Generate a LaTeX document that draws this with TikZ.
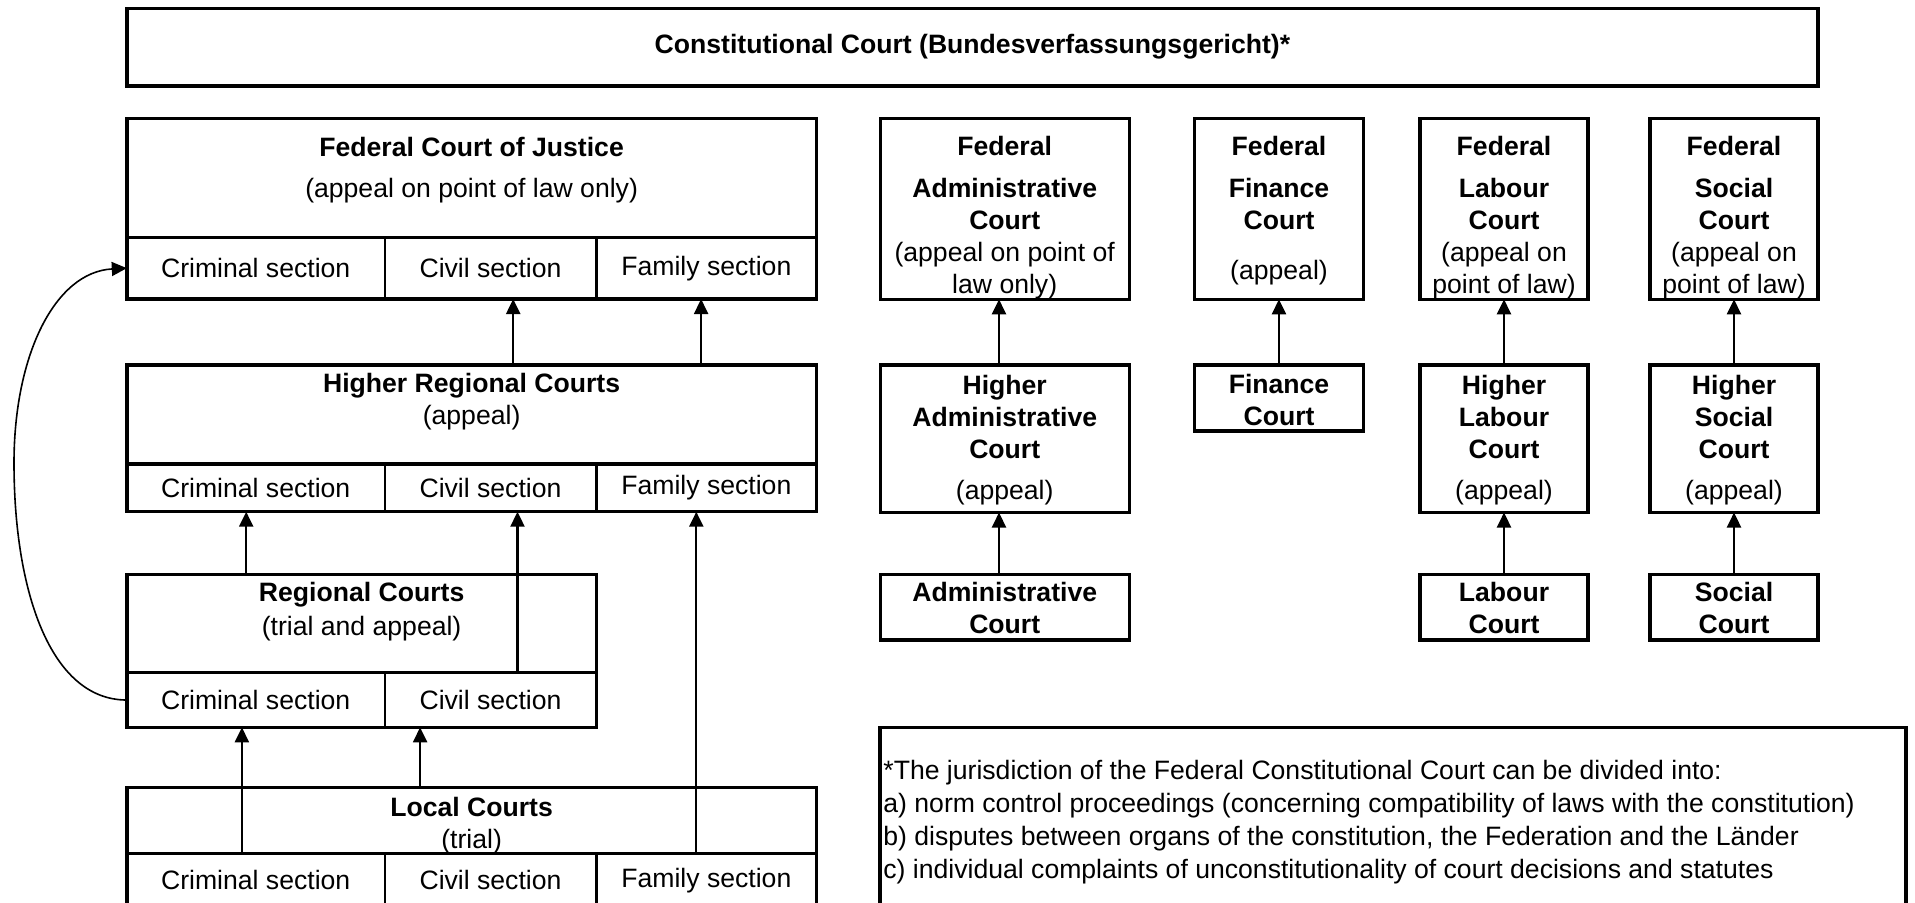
\documentclass[tikz,border=0pt]{standalone}
\usepackage{fontspec}
\setmainfont{Liberation Sans}
\usetikzlibrary{arrows.meta,calc}
\newcommand\courtbox[7][]{%
  \pgfmathsetmacro\cbw{(#5-#3)*0.5}%
  \pgfmathsetmacro\cbh{(#6-#4)*0.5}%
  \node[part,#1,minimum width=\cbw pt,minimum height=\cbh pt] (#2) at ({(#3+#5)/2},{(#4+#6)/2}) {#7};}
\begin{document}
\begin{tikzpicture}[x=0.5pt,y=-0.5pt,
  font=\fontsize{13.3}{16}\selectfont,
  part/.style={draw=black,line width=1.1pt,inner sep=0pt,outer sep=0pt},
  frame/.style={draw=black,line width=1.7pt},
  thick box/.style={line width=1.7pt},
  txt/.style={align=center,inner sep=0pt},
  arr/.style={draw=black,line width=1.1pt,-{Triangle[length=7.5pt,width=7pt]}},
  curved/.style={draw=black,line width=0.8pt,-{Triangle[length=7.5pt,width=7pt]}}]
\fill[white] (0,0) rectangle (1915,902);
\useasboundingbox (0,0) rectangle (1915,902);

% Constitutional court
\courtbox[thick box]{const}{126.8}{8.3}{1818}{86}{\textbf{Constitutional Court (Bundesverfassungsgericht)*}}

% Federal Court of Justice
\courtbox{fcj}{126.8}{118.3}{816.3}{237.3}{}
\courtbox{fcjcrim}{126.8}{237.3}{384.6}{299}{Criminal section}
\courtbox{fcjciv}{384.6}{237.3}{596.4}{299}{Civil section}
\courtbox{fcjfam}{596.4}{237.3}{816.3}{299}{Family section}
\draw[frame] (fcj.north west) rectangle (fcjfam.south east);
\draw[frame] (fcj.south west) -- (fcj.south east);
\node[txt] (fcjt) at (471.6,170) {\textbf{Federal Court of Justice}\\[4.8pt](appeal on point of law only)};

% Higher Regional Courts
\courtbox{hrc}{126.8}{365}{816.3}{464}{}
\courtbox{hrccrim}{126.8}{464}{384.6}{511.7}{Criminal section}
\courtbox{hrcciv}{384.6}{464}{596.4}{511.7}{Civil section}
\courtbox{hrcfam}{596.4}{464}{816.3}{511.7}{Family section}
\draw[frame] (hrc.north west) rectangle (hrcfam.south east);
\draw[frame] (hrc.south west) -- (hrc.south east);
\node[txt] (hrct) at (471.6,402) {\textbf{Higher Regional Courts}\\(appeal)};

% Regional Courts
\courtbox{rc}{126.8}{574.3}{596.4}{672.7}{}
\courtbox{rccrim}{126.8}{672.7}{384.6}{727.3}{Criminal section}
\courtbox{rcciv}{384.6}{672.7}{596.4}{727.3}{Civil section}
\draw[frame] (rc.north west) rectangle (rcciv.south east);
\draw[frame] (rc.south west) -- (rc.south east);
\node[txt] (rct) at (361.6,611.5) {\textbf{Regional Courts}\\[1pt](trial and appeal)};

% Local Courts
\courtbox{lc}{126.8}{787.7}{816.3}{853.3}{}
\courtbox{lccrim}{126.8}{853.3}{384.6}{907}{Criminal section}
\courtbox{lcciv}{384.6}{853.3}{596.4}{907}{Civil section}
\courtbox{lcfam}{596.4}{853.3}{816.3}{907}{Family section}
\draw[frame] (lc.north west) rectangle (lcfam.south east);
\draw[frame] (lc.south west) -- (lc.south east);
\node[txt] (lct) at (471.6,825.7) {\textbf{Local Courts}\\(trial)};

% Right-hand columns
\courtbox[thick box]{fadm}{880.2}{118.3}{1129.2}{299.3}{}
\courtbox[thick box]{ffin}{1194.5}{118.3}{1363.4}{299.3}{}
\courtbox[thick box]{flab}{1419.9}{118.3}{1588.1}{299.3}{}
\courtbox[thick box]{fsoc}{1650}{118.3}{1818}{299.3}{}
\courtbox[thick box]{hadm}{880.2}{365}{1129.2}{512.5}{}
\courtbox[thick box]{fic}{1194.5}{365}{1363.4}{431}{}
\courtbox[thick box]{hlab}{1419.9}{365}{1588.1}{512.5}{}
\courtbox[thick box]{hsoc}{1650}{365}{1818}{512.5}{}
\courtbox[thick box]{adm}{880.2}{574.6}{1129.2}{640}{}
\courtbox[thick box]{lab}{1419.9}{574.6}{1588.1}{640}{}
\courtbox[thick box]{soc}{1650}{574.6}{1818}{640}{}

\node[txt] (fadmt) at (1004.7,218) {\textbf{Federal}\\[5pt]\textbf{Administrative}\\\textbf{Court}\\(appeal on point of\\law only)};
\node[txt] (ffint) at (1279,211) {\textbf{Federal}\\[5pt]\textbf{Finance}\\\textbf{Court}\\[9pt](appeal)};
\node[txt] (flabt) at (1504,218) {\textbf{Federal}\\[5pt]\textbf{Labour}\\\textbf{Court}\\(appeal on\\point of law)};
\node[txt] (fsoct) at (1734,218) {\textbf{Federal}\\[5pt]\textbf{Social}\\\textbf{Court}\\(appeal on\\point of law)};
\node[txt] (hadmt) at (1004.7,440.5) {\textbf{Higher}\\\textbf{Administrative}\\\textbf{Court}\\[4.5pt](appeal)};
\node[txt] (fict) at (1279,399.7) {\textbf{Finance}\\\textbf{Court}};
\node[txt] (hlabt) at (1504,440.5) {\textbf{Higher}\\\textbf{Labour}\\\textbf{Court}\\[4.5pt](appeal)};
\node[txt] (hsoct) at (1734,440.5) {\textbf{Higher}\\\textbf{Social}\\\textbf{Court}\\[4.5pt](appeal)};
\node[txt] (admt) at (1004.7,608.2) {\textbf{Administrative}\\\textbf{Court}};
\node[txt] (labt) at (1504,608.2) {\textbf{Labour}\\\textbf{Court}};
\node[txt] (soct) at (1734,608.2) {\textbf{Social}\\\textbf{Court}};

% Footnote
\courtbox[thick box]{note}{880}{727.5}{1906}{910}{}
\node[align=left,inner sep=0pt,anchor=west,font=\fontsize{13.3}{16.5}\selectfont] (notet) at (883,822)
  {*The jurisdiction of the Federal Constitutional Court can be divided into:\\
   a) norm control proceedings (concerning compatibility of laws with the constitution)\\
   b) disputes between organs of the constitution, the Federation and the Länder\\
   c) individual complaints of unconstitutionality of court decisions and statutes};

% Arrows, left column
\coordinate (xa) at (513.2,0);
\coordinate (xb) at (701.1,0);
\coordinate (xc) at (246.2,0);
\coordinate (xd) at (517.5,0);
\coordinate (xe) at (696.3,0);
\coordinate (xf) at (241.9,0);
\coordinate (xg) at (420.1,0);
\draw[arr] (hrc.north -| xa) -- (fcjciv.south -| xa);
\draw[arr] (hrc.north -| xb) -- (fcjfam.south -| xb);
\draw[arr] (rc.north -| xc) -- (hrccrim.south -| xc);
\draw[arr] (rcciv.north -| xd) -- (hrcciv.south -| xd);
\draw[arr] (lcfam.north -| xe) -- (hrcfam.south -| xe);
\draw[arr] (lccrim.north -| xf) -- (rccrim.south -| xf);
\draw[arr] (lc.north -| xg) -- (rcciv.south -| xg);

% Curved arrow
\coordinate (bend) at (14,463);
\draw[curved] (rccrim.west) .. controls (50,700) and (14,590) .. (bend)
  .. controls (14,355) and (55,272) .. (fcjcrim.west);

% Arrows, right columns
\coordinate (xadm) at (999,0);
\draw[arr] (hadm.north -| xadm) -- (fadm.south -| xadm);
\draw[arr] (adm.north -| xadm) -- (hadm.south -| xadm);
\draw[arr] (fic.north) -- (ffin.south);
\draw[arr] (hlab.north) -- (flab.south);
\draw[arr] (lab.north) -- (hlab.south);
\draw[arr] (hsoc.north) -- (fsoc.south);
\draw[arr] (soc.north) -- (hsoc.south);
\end{tikzpicture}
\end{document}
